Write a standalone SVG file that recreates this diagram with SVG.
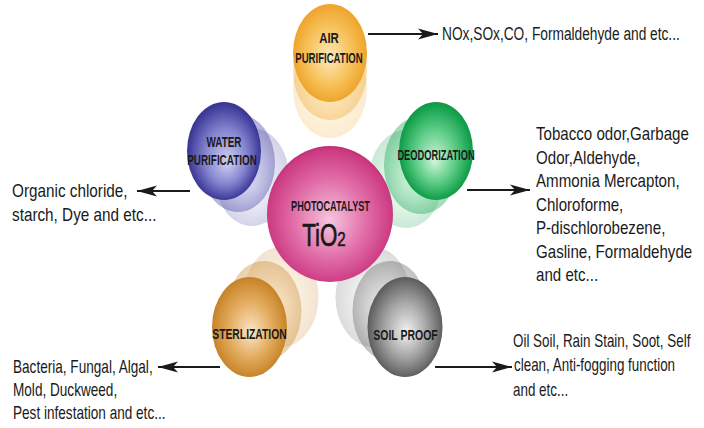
<svg xmlns="http://www.w3.org/2000/svg" width="704" height="428" viewBox="0 0 704 428">
<style>
.lbl{font-family:"Liberation Sans",Arial,sans-serif;font-weight:bold;font-size:15px;fill:#1a1a1a;text-anchor:middle}
.lst{font-family:"Liberation Sans",Arial,sans-serif;font-size:18px;fill:#1a1a1a}
.con{stroke:#1a1a1a;stroke-width:2;fill:none;marker-end:url(#arr)}
.g1{opacity:0.38}
.g2{opacity:0.22}
</style>
<defs>
<marker id="arr" markerUnits="userSpaceOnUse" markerWidth="21" markerHeight="12" refX="20" refY="6" orient="auto">
<path d="M0,0.5 L20,6 L0,11.5 L5,6 z" fill="#1a1a1a"/>
</marker>
<radialGradient id="gPink" cx="50%" cy="52%" r="55%" fx="50%" fy="55%">
<stop offset="0" stop-color="#f6c6de"/><stop offset="0.55" stop-color="#e06aa6"/><stop offset="0.9" stop-color="#cc3a82"/><stop offset="1" stop-color="#b42068"/>
</radialGradient>
<radialGradient id="gOrange" cx="50%" cy="50%" r="55%" fx="48%" fy="55%">
<stop offset="0" stop-color="#fde9bd"/><stop offset="0.55" stop-color="#f7c15a"/><stop offset="0.9" stop-color="#efa52c"/><stop offset="1" stop-color="#e59620"/>
</radialGradient>
<radialGradient id="gBlue" cx="50%" cy="50%" r="55%" fx="55%" fy="62%">
<stop offset="0" stop-color="#d0d0f2"/><stop offset="0.5" stop-color="#8686d0"/><stop offset="0.85" stop-color="#44409e"/><stop offset="1" stop-color="#2a2680"/>
</radialGradient>
<radialGradient id="gGreen" cx="50%" cy="50%" r="55%" fx="48%" fy="60%">
<stop offset="0" stop-color="#d2f4da"/><stop offset="0.5" stop-color="#5ccc86"/><stop offset="0.85" stop-color="#16a24e"/><stop offset="1" stop-color="#0a8a3c"/>
</radialGradient>
<radialGradient id="gBrown" cx="50%" cy="50%" r="55%" fx="52%" fy="55%">
<stop offset="0" stop-color="#fae6c6"/><stop offset="0.5" stop-color="#e4ad62"/><stop offset="0.85" stop-color="#cc8a30"/><stop offset="1" stop-color="#b87622"/>
</radialGradient>
<radialGradient id="gGray" cx="50%" cy="50%" r="55%" fx="52%" fy="55%">
<stop offset="0" stop-color="#f2f2f2"/><stop offset="0.5" stop-color="#a6a6a6"/><stop offset="0.85" stop-color="#686868"/><stop offset="1" stop-color="#4a4a4a"/>
</radialGradient>
</defs>
<rect width="704" height="428" fill="#ffffff"/>

<g id="ghosts">
<ellipse class="g2" cx="330" cy="89" rx="37" ry="49" fill="url(#gOrange)"/>
<ellipse class="g1" cx="330" cy="71" rx="37" ry="49" fill="url(#gOrange)"/>
<ellipse class="g2" cx="252" cy="177" rx="37" ry="49" fill="url(#gBlue)"/>
<ellipse class="g1" cx="238" cy="163" rx="37" ry="49" fill="url(#gBlue)"/>
<ellipse class="g2" cx="406" cy="179" rx="37" ry="49" fill="url(#gGreen)"/>
<ellipse class="g1" cx="421" cy="165" rx="37" ry="49" fill="url(#gGreen)"/>
<ellipse class="g2" cx="281" cy="297" rx="37.5" ry="50" fill="url(#gBrown)"/>
<ellipse class="g1" cx="264" cy="311" rx="37.5" ry="50" fill="url(#gBrown)"/>
<ellipse class="g2" cx="373" cy="297" rx="37.5" ry="50" fill="url(#gGray)"/>
<ellipse class="g1" cx="390" cy="311" rx="37.5" ry="50" fill="url(#gGray)"/>
</g>

<g id="node-center">
<ellipse cx="330" cy="214" rx="63" ry="68" fill="url(#gPink)"/>
<text class="lbl" font-size="16" transform="translate(330.5,211) scale(0.61,1)">PHOTOCATALYST</text>
<text font-family="'Liberation Sans',Arial,sans-serif" font-size="31" fill="#1a1a1a" stroke="#1a1a1a" stroke-width="0.7" text-anchor="middle" transform="translate(324,246) scale(0.72,1)">TiO<tspan font-size="21" stroke-width="0.6">2</tspan></text>
</g>

<g id="node-air">
<ellipse cx="330" cy="53" rx="37" ry="49" fill="url(#gOrange)"/>
<text class="lbl" transform="translate(329,43) scale(0.76,1)">AIR</text>
<text class="lbl" transform="translate(329,63) scale(0.64,1)">PURIFICATION</text>
</g>

<g id="node-water">
<ellipse cx="224" cy="151" rx="37" ry="49" fill="url(#gBlue)"/>
<text class="lbl" transform="translate(224,147) scale(0.66,1)">WATER</text>
<text class="lbl" transform="translate(222,165) scale(0.66,1)">PURIFICATION</text>
</g>

<g id="node-deodorization">
<ellipse cx="436" cy="151" rx="37" ry="49" fill="url(#gGreen)"/>
<text class="lbl" font-size="14" transform="translate(436,160) scale(0.62,1)">DEODORIZATION</text>
</g>

<g id="node-sterlization">
<ellipse cx="249.5" cy="327" rx="37.5" ry="50" fill="url(#gBrown)"/>
<text class="lbl" transform="translate(249.5,339) scale(0.69,1)">STERLIZATION</text>
</g>

<g id="node-soilproof">
<ellipse cx="405" cy="327" rx="37.5" ry="50" fill="url(#gGray)"/>
<text class="lbl" transform="translate(405.5,340) scale(0.7,1)">SOIL PROOF</text>
</g>

<g id="connectors">
<line class="con" x1="368" y1="34" x2="438" y2="34"/>
<line class="con" x1="190" y1="191" x2="137" y2="191"/>
<line class="con" x1="467" y1="190" x2="530" y2="190"/>
<line class="con" x1="220" y1="367" x2="158" y2="367"/>
<line class="con" x1="435" y1="367" x2="512" y2="367"/>
</g>

<g id="text-air">
<text class="lst" transform="translate(442,40) scale(0.762,1)">NOx,SOx,CO, Formaldehyde and etc...</text>
</g>
<g id="text-water">
<text class="lst" transform="translate(12,197) scale(0.85,1)">Organic chloride,</text>
<text class="lst" transform="translate(12,221) scale(0.85,1)">starch, Dye and etc...</text>
</g>
<g id="text-deodorization">
<text class="lst" transform="translate(536,140) scale(0.84,1)">Tobacco odor,Garbage</text>
<text class="lst" transform="translate(536,163.5) scale(0.84,1)">Odor,Aldehyde,</text>
<text class="lst" transform="translate(536,187) scale(0.84,1)">Ammonia Mercapton,</text>
<text class="lst" transform="translate(536,210.5) scale(0.84,1)">Chloroforme,</text>
<text class="lst" transform="translate(536,234) scale(0.84,1)">P-dischlorobezene,</text>
<text class="lst" transform="translate(536,257.5) scale(0.84,1)">Gasline, Formaldehyde</text>
<text class="lst" transform="translate(536,281) scale(0.84,1)">and etc...</text>
</g>
<g id="text-sterlization">
<text class="lst" transform="translate(13,373) scale(0.755,1)">Bacteria, Fungal, Algal,</text>
<text class="lst" transform="translate(13,396) scale(0.755,1)">Mold, Duckweed,</text>
<text class="lst" transform="translate(13,419) scale(0.755,1)">Pest infestation and etc...</text>
</g>
<g id="text-soilproof">
<text class="lst" transform="translate(513,347) scale(0.746,1)">Oil Soil, Rain Stain, Soot, Self</text>
<text class="lst" transform="translate(514,371) scale(0.746,1)">clean, Anti-fogging function</text>
<text class="lst" transform="translate(513,396) scale(0.746,1)">and etc...</text>
</g>
</svg>
